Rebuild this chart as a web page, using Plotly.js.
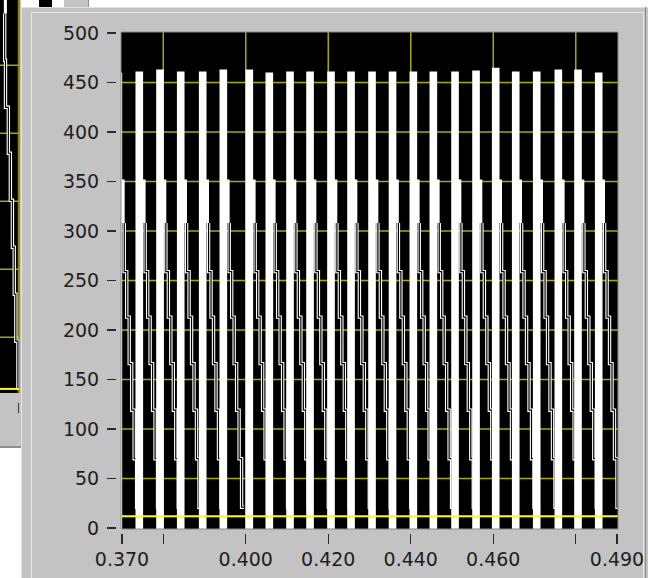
<!DOCTYPE html>
<html><head><meta charset="utf-8">
<script src="https://cdn.plot.ly/plotly-3.0.1.min.js"></script>
<style>
html,body{margin:0;padding:0;background:#fff;width:648px;height:578px;overflow:hidden;position:relative;}
.abs{position:absolute;}
</style></head><body>
<div class="abs" style="left:0;top:0;width:21px;height:446px;background:#c3c3c3;border-bottom:2px solid #8e8e8e;"></div>
<div class="abs" id="frag" style="left:0;top:0;width:21px;height:446px;"></div>
<div class="abs" style="left:39px;top:0;width:13px;height:7px;background:#000;"></div>
<div class="abs" style="left:64px;top:0;width:24px;height:7px;background:#c3c3c3;border-right:1px solid #8e8e8e;"></div>
<div class="abs" style="left:21px;top:7px;width:627px;height:571px;background:#c3c3c3;box-shadow:inset 1px 1px 0 #e2e2e2;"></div>
<div class="abs" style="left:31px;top:12px;width:611px;height:580px;border-left:1px solid #e8e8e8;border-top:1px solid #e8e8e8;border-right:1px solid #e8e8e8;"></div>
<div class="abs" style="left:645px;top:7px;width:1px;height:571px;background:#8a8a8a"></div>
<div class="abs" id="chart" style="left:0;top:0;width:648px;height:578px;"></div>
<script>
// ---------- data ----------
// left edges (s) of the tall pulses
const riseX = [0.3682, 0.37327, 0.37829, 0.38331, 0.38864, 0.39364, 0.39994, 0.40479, 0.40981, 0.41466,
  0.41975, 0.42460, 0.42969, 0.43466, 0.43970, 0.44455, 0.44981, 0.45490, 0.45967, 0.46452,
  0.46961, 0.47485, 0.47962, 0.48464];
// pulse top levels
const peakY = [460, 461, 463, 461, 461, 463, 463, 460, 461, 461, 461, 461, 461, 461, 461, 461, 461, 462, 465, 461, 461, 463, 463, 460];
// shoulder just after each pulse
const shoulderTop = 352;
const shoulderBase = 308;
// staircase levels of the decay
const stepLevels = [308, 259, 213, 166, 119, 70, 21];
const triggerLevel = 12;

const xTickVals = [0.370, 0.380, 0.400, 0.420, 0.440, 0.460, 0.480, 0.490];
const xTickText = ['0.370', '', '0.400', '0.420', '0.440', '0.460', '', '0.490'];
const xGridVals = [0.380, 0.400, 0.420, 0.440, 0.460, 0.480];
const yTickVals = [0, 50, 100, 150, 200, 250, 300, 350, 400, 450, 500];
const yGridVals = [50, 100, 150, 200, 250, 300, 350, 400, 450];

// fragment of the neighbouring graph (left edge)
const fragStairX = [1.15, 1.35, 2.05, 2.55, 3.05, 3.5, 3.9, 4.4, 4.8];
const fragStairY = [288, 253.7, 219.1, 185.3, 150.7, 116.2, 81.6, 47.1, 12.5];
const fragGridY = [50, 100, 150, 200, 250];

// ---------- styling ----------
const barW = 0.00185, shExtra = 0.0006, stairGap = 0.0005, stairDx = 0.0006;
const gridCol = '#a8a800';
const font = {family: 'DejaVu Sans, Verdana, sans-serif', size: 19, color: '#1e1e1e'};

// build pulses (filled polygons) and staircase lines
const px = [], py = [], sx = [], sy = [];
riseX.forEach((r, i) => {
  const e = r + barW;
  px.push(r, r, e, e, r, null); py.push(-5, peakY[i], peakY[i], -5, -5, null);
  const s0 = e - 0.0002, s1 = e + shExtra;
  px.push(s0, s0, s1, s1, s0, null); py.push(shoulderBase, shoulderTop, shoulderTop, shoulderBase, shoulderBase, null);
  const xs = e + stairGap;
  stepLevels.forEach((L, k) => { sx.push(xs + k * stairDx); sy.push(L); });
  sx.push(null); sy.push(null);
});

const traces = [
  {x: sx, y: sy, mode: 'lines', line: {color: '#fff', width: 3.4, shape: 'vh'}, hoverinfo: 'skip', connectgaps: false},
  {x: sx, y: sy, mode: 'lines', line: {color: '#000', width: 1.2, shape: 'vh'}, hoverinfo: 'skip', connectgaps: false},
  {x: px, y: py, mode: 'lines', fill: 'toself', fillcolor: '#fff', line: {width: 0, color: '#fff'}, hoverinfo: 'skip', connectgaps: false}
];

const shapes = [];
xGridVals.forEach(v => shapes.push({type: 'line', layer: 'below', xref: 'x', yref: 'y domain', x0: v, x1: v, y0: 0, y1: 1, line: {color: gridCol, width: 1.5}}));
yGridVals.forEach(v => shapes.push({type: 'line', layer: 'below', xref: 'x domain', yref: 'y', x0: 0, x1: 1, y0: v, y1: v, line: {color: gridCol, width: 1.5}}));
shapes.push({type: 'line', layer: 'above', xref: 'x domain', yref: 'y', x0: 0, x1: 1, y0: triggerLevel, y1: triggerLevel, line: {color: '#ffff00', width: 2}});
shapes.push({type: 'rect', layer: 'above', xref: 'x domain', yref: 'y domain', x0: 0, x1: 1, y0: 0, y1: 1, line: {color: '#8a8a8a', width: 1}});

const layout = {
  width: 648, height: 578,
  margin: {l: 116, r: 30, t: 32, b: 45, pad: 0},
  paper_bgcolor: 'rgba(0,0,0,0)', plot_bgcolor: '#000',
  showlegend: false,
  xaxis: {domain: [5 / 502, 1], anchor: 'free', position: 0, range: [0.36976, 0.49024],
    tickvals: xTickVals, ticktext: xTickText, ticks: 'outside', ticklen: 10, tickwidth: 1.3, tickcolor: '#2a2a2a',
    showgrid: false, zeroline: false, showline: false, tickfont: font, ticklabelstandoff: -1},
  yaxis: {domain: [4 / 501, 1], anchor: 'free', position: 0, range: [-1, 501],
    tickvals: yTickVals, ticks: 'outside', ticklen: 9, tickwidth: 1.3, tickcolor: '#2a2a2a',
    showgrid: false, zeroline: false, showline: false, tickfont: font, ticklabelstandoff: 4},
  shapes: shapes
};
Plotly.newPlot('chart', traces, layout, {staticPlot: true, displayModeBar: false});

// fragment of neighbouring graph
const fShapes = [];
fragGridY.forEach(v => fShapes.push({type: 'line', layer: 'below', xref: 'x domain', yref: 'y', x0: 0, x1: 1, y0: v, y1: v, line: {color: gridCol, width: 1.5}}));
fShapes.push({type: 'line', layer: 'below', xref: 'x', yref: 'y domain', x0: 4.5, x1: 4.5, y0: 0, y1: 1, line: {color: gridCol, width: 1}});
fShapes.push({type: 'line', layer: 'above', xref: 'x domain', yref: 'y', x0: 0, x1: 1, y0: triggerLevel, y1: triggerLevel, line: {color: '#ffff00', width: 2}});
Plotly.newPlot('frag', [
  {x: fragStairX, y: fragStairY, mode: 'lines', line: {color: '#fff', width: 3.4, shape: 'vh'}, hoverinfo: 'skip'},
  {x: fragStairX, y: fragStairY, mode: 'lines', line: {color: '#000', width: 1.2, shape: 'vh'}, hoverinfo: 'skip'},
  {x: [0.95, 0.95, 1.7, 1.7, 0.95], y: [288, 320, 320, 288, 288], mode: 'lines', fill: 'toself', fillcolor: '#fff', line: {width: 0}, hoverinfo: 'skip'}
], {
  width: 21, height: 446, margin: {l: 0, r: 0, t: 0, b: 44, pad: 0},
  paper_bgcolor: 'rgba(0,0,0,0)', plot_bgcolor: '#000', showlegend: false,
  xaxis: {range: [0, 4.75], domain: [0, 0.92], anchor: 'free', position: 0, tickvals: [4.5], ticks: 'outside', ticklen: 10, tickcolor: '#333', showticklabels: false, showgrid: false, zeroline: false, showline: false},
  yaxis: {range: [9, 298], domain: [9 / 402, 1], showticklabels: false, showgrid: false, zeroline: false, showline: false},
  shapes: fShapes
}, {staticPlot: true, displayModeBar: false});
</script>
</body></html>
